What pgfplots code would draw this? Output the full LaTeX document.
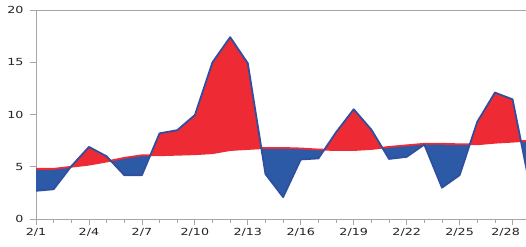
\documentclass[border=0pt]{standalone}
\usepackage{fontspec}
\setmainfont{DejaVu Sans}[FakeStretch=1.3]
\usepackage{pgfplots}
\pgfplotsset{compat=1.18}
\usepgfplotslibrary{fillbetween}
\definecolor{redf}{HTML}{EE2A35}
\definecolor{bluef}{HTML}{2D5AA7}
\definecolor{blueline}{HTML}{2F4F9F}
\definecolor{axgray}{HTML}{A6A6A6}
\definecolor{txt}{HTML}{222222}
\begin{document}
\begin{tikzpicture}
\begin{axis}[
  name=ax, scale only axis, width=494.2bp, height=209bp,
  xmin=0, xmax=28, ymin=0, ymax=20,
  xtick={0,3,...,27},
  xticklabels={2/1,2/4,2/7,2/10,2/13,2/16,2/19,2/22,2/25,{\makebox[0pt]{\hspace*{-14bp}2/28}}},
  minor xtick={0,...,28},
  ytick={0,5,10,15,20},
  xtick pos=left, ytick pos=left,
  tick align=outside, major tick length=6bp, minor tick length=4bp,
  axis line style={axgray, line width=0.8bp},
  every tick/.style={axgray, line width=0.8bp},
  every minor tick/.style={axgray, line width=0.8bp},
  every tick label/.append style={font=\fontsize{9.8}{11}\selectfont, text=txt},
  yticklabel style={xshift=-3bp},
  /pgf/number format/assume math mode=true,
]
\addplot[name path=A, draw=none] table {
0 2.7
1 2.85
2 5.05
3 6.9
4 6.0
5 4.2
6 4.2
7 8.2
8 8.5
9 9.95
10 15.0
11 17.4
12 14.9
13 4.3
14 2.1
15 5.7
16 5.8
17 8.3
18 10.5
19 8.55
20 5.75
21 5.95
22 7.12
23 3.0
24 4.2
25 9.3
26 12.1
27 11.45
28 3.0
};
\addplot[name path=B, draw=none] table {
0 4.8
1 4.8
2 5.0
3 5.2
4 5.5
5 5.85
6 6.1
7 6.1
8 6.15
9 6.2
10 6.3
11 6.6
12 6.7
13 6.8
14 6.8
15 6.75
16 6.65
17 6.6
18 6.6
19 6.7
20 6.9
21 7.05
22 7.2
23 7.2
24 7.15
25 7.15
26 7.3
27 7.4
28 7.5
};
\addplot fill between[of=A and B, split,
  every even segment/.style={fill=bluef},
  every odd segment/.style={fill=redf}];
\addplot[redf, line width=1.8bp] table {
0 4.8
1 4.8
2 5.0
3 5.2
4 5.5
5 5.85
6 6.1
7 6.1
8 6.15
9 6.2
10 6.3
11 6.6
12 6.7
13 6.8
14 6.8
15 6.75
16 6.65
17 6.6
18 6.6
19 6.7
20 6.9
21 7.05
22 7.2
23 7.2
24 7.15
25 7.15
26 7.3
27 7.4
28 7.5
};
\addplot[blueline, line width=1.8bp, line join=round] table {
0 2.7
1 2.85
2 5.05
3 6.9
4 6.0
5 4.2
6 4.2
7 8.2
8 8.5
9 9.95
10 15.0
11 17.4
12 14.9
13 4.3
14 2.1
15 5.7
16 5.8
17 8.3
18 10.5
19 8.55
20 5.75
21 5.95
22 7.12
23 3.0
24 4.2
25 9.3
26 12.1
27 11.45
28 3.0
};
\coordinate (BL) at (axis cs:0,0);
\coordinate (TR) at (axis cs:27.76,20);
\end{axis}
\pgfresetboundingbox
\path[use as bounding box] ([xshift=-36bp,yshift=-27bp]BL) rectangle ([yshift=10bp]TR);
\end{tikzpicture}
\end{document}
